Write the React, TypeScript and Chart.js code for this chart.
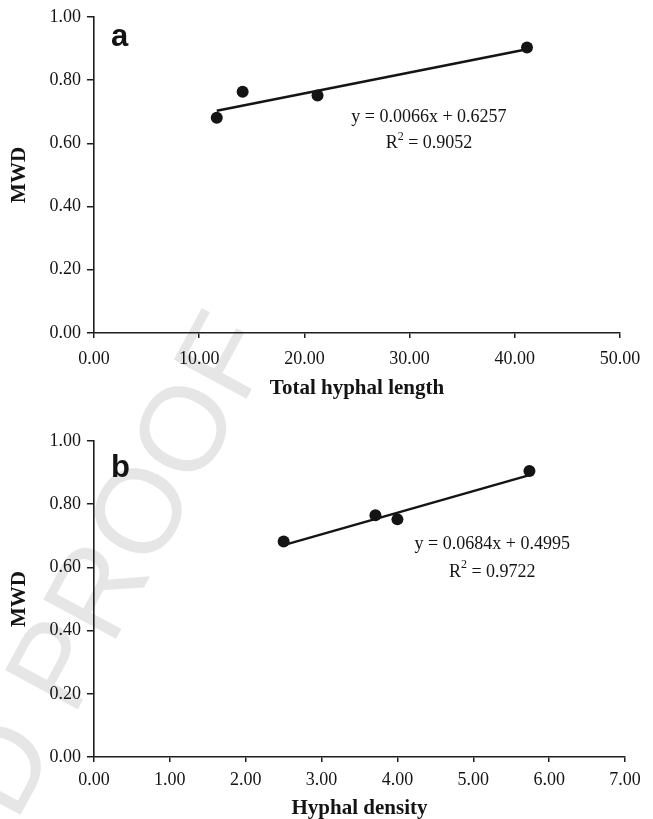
import React, { useEffect, useRef } from "react";
import { Chart, registerables } from "chart.js";

Chart.register(...registerables);

// ---------------- data ----------------
const totalHyphalLength = [11.67, 14.13, 21.25, 41.16];
const mwdA = [0.681, 0.763, 0.751, 0.903];
const fitA = [0.0066, 0.6257];
const eqTextA = "y = 0.0066x + 0.6257";
const r2TextA = "0.9052";
const xTicksA = [0, 10, 20, 30, 40, 50];

const hyphalDensity = [2.5, 3.71, 4.0, 5.74];
const mwdB = [0.682, 0.765, 0.752, 0.905];
const fitB = [0.0684, 0.4995];
const eqTextB = "y = 0.0684x + 0.4995";
const r2TextB = "0.9722";
const xTicksB = [0, 1, 2, 3, 4, 5, 6, 7];

const yTicks = [0, 0.2, 0.4, 0.6, 0.8, 1.0];

// ---------------- styles ----------------
const SERIF = '"Liberation Serif", "Times New Roman", Times, serif';
const SANS = '"Liberation Sans", Arial, Helvetica, sans-serif';
const AXIS = "#1e1e1e";
const INK = "#141414";

interface PanelSpec {
  top: number;
  height: number;
  letter: string;
  letterDx: number;
  letterDy: number;
  xs: number[];
  ys: number[];
  fit: number[];
  eq: string;
  r2: string;
  eqAt: number[];
  r2Gap: number;
  xTicks: number[];
  xTitle: string;
  padding: { top: number; right: number; left: number; bottom: number };
  xAxisHeight: number;
  xTickPad: number;
  xTitlePad: number;
}

const panels: PanelSpec[] = [
  {
    top: 0,
    height: 410,
    letter: "a",
    letterDx: 17,
    letterDy: 29,
    xs: totalHyphalLength,
    ys: mwdA,
    fit: fitA,
    eq: eqTextA,
    r2: r2TextA,
    eqAt: [31.84, 0.681],
    r2Gap: 26,
    xTicks: xTicksA,
    xTitle: "Total hyphal length",
    padding: { top: 16, right: 33, left: 0, bottom: 0 },
    xAxisHeight: 77,
    xTickPad: 10,
    xTitlePad: 11,
  },
  {
    top: 410,
    height: 409,
    letter: "b",
    letterDx: 17,
    letterDy: 36,
    xs: hyphalDensity,
    ys: mwdB,
    fit: fitB,
    eq: eqTextB,
    r2: r2TextB,
    eqAt: [5.25, 0.674],
    r2Gap: 28,
    xTicks: xTicksB,
    xTitle: "Hyphal density",
    padding: { top: 31, right: 28, left: 0, bottom: 0 },
    xAxisHeight: 62,
    xTickPad: 7,
    xTitlePad: 0,
  },
];

function makeConfig(s: PanelSpec): any {
  const lo = Math.min(...s.xs);
  const hi = Math.max(...s.xs);
  const [m, b] = s.fit;

  const annot = {
    id: "annot",
    afterDraw(chart: any) {
      const { ctx, chartArea, scales } = chart;
      ctx.save();
      ctx.fillStyle = INK;
      // panel letter
      ctx.font = `bold 31px ${SANS}`;
      ctx.textAlign = "left";
      ctx.textBaseline = "alphabetic";
      ctx.fillText(s.letter, chartArea.left + s.letterDx, chartArea.top + s.letterDy);
      // equation
      const cx = scales.x.getPixelForValue(s.eqAt[0]);
      const cy = scales.y.getPixelForValue(s.eqAt[1]);
      ctx.font = `18px ${SERIF}`;
      ctx.textAlign = "center";
      ctx.textBaseline = "middle";
      ctx.fillText(s.eq, cx, cy);
      // R^2 line
      const rest = " = " + s.r2;
      const wR = ctx.measureText("R").width;
      const wRest = ctx.measureText(rest).width;
      ctx.font = `12px ${SERIF}`;
      const w2 = ctx.measureText("2").width;
      const total = wR + w2 + wRest;
      const y2 = cy + s.r2Gap;
      let sx = cx - total / 2;
      ctx.textAlign = "left";
      ctx.font = `18px ${SERIF}`;
      ctx.fillText("R", sx, y2);
      ctx.font = `12px ${SERIF}`;
      ctx.fillText("2", sx + wR, y2 - 7);
      ctx.font = `18px ${SERIF}`;
      ctx.fillText(rest, sx + wR + w2, y2);
      ctx.restore();
    },
  };

  const tickFont = { family: SERIF, size: 18 };
  const titleFont = { family: SERIF, size: 21, weight: "bold" as const, lineHeight: 1 };

  return {
    type: "scatter",
    data: {
      datasets: [
        {
          label: "observed",
          data: s.xs.map((x, i) => ({ x, y: s.ys[i] })),
          backgroundColor: INK,
          borderColor: INK,
          borderWidth: 0,
          pointRadius: 6,
          pointHoverRadius: 6,
        },
        {
          label: "fit",
          data: [
            { x: lo, y: m * lo + b },
            { x: hi, y: m * hi + b },
          ],
          showLine: true,
          borderColor: INK,
          borderWidth: 2.5,
          pointRadius: 0,
          fill: false,
        },
      ],
    },
    options: {
      animation: false,
      responsive: false,
      events: [],
      layout: { padding: s.padding },
      plugins: {
        legend: { display: false },
        tooltip: { enabled: false },
      },
      scales: {
        x: {
          type: "linear",
          min: s.xTicks[0],
          max: s.xTicks[s.xTicks.length - 1],
          afterBuildTicks: (sc: any) => {
            sc.ticks = s.xTicks.map((v) => ({ value: v }));
          },
          afterFit: (sc: any) => {
            sc.height = s.xAxisHeight;
          },
          ticks: {
            callback: (v: any) => Number(v).toFixed(2),
            font: tickFont,
            color: INK,
            padding: s.xTickPad,
            maxRotation: 0,
            autoSkip: false,
          },
          grid: {
            display: true,
            drawOnChartArea: false,
            drawTicks: true,
            tickLength: 5,
            color: AXIS,
            lineWidth: 1.5,
          },
          border: { display: true, color: AXIS, width: 1.6 },
          title: {
            display: true,
            text: s.xTitle,
            font: titleFont,
            color: INK,
            padding: { top: 0, bottom: s.xTitlePad },
          },
        },
        y: {
          type: "linear",
          min: yTicks[0],
          max: yTicks[yTicks.length - 1],
          afterBuildTicks: (sc: any) => {
            sc.ticks = yTicks.map((v) => ({ value: v }));
          },
          afterFit: (sc: any) => {
            sc.width = 94;
          },
          ticks: {
            callback: (v: any) => Number(v).toFixed(2),
            font: tickFont,
            color: INK,
            padding: 6,
            autoSkip: false,
          },
          grid: {
            display: true,
            drawOnChartArea: false,
            drawTicks: true,
            tickLength: 7,
            color: AXIS,
            lineWidth: 1.5,
          },
          border: { display: true, color: AXIS, width: 1.6 },
          title: {
            display: true,
            text: "MWD",
            font: titleFont,
            color: INK,
            padding: { top: 9.5, bottom: 0 },
          },
        },
      },
    },
    plugins: [annot],
  };
}

function Panel({ spec }: { spec: PanelSpec }) {
  const ref = useRef<HTMLCanvasElement>(null);
  useEffect(() => {
    if (!ref.current) return;
    const chart = new Chart(ref.current, makeConfig(spec));
    return () => chart.destroy();
  }, [spec]);
  return (
    <canvas
      ref={ref}
      width={653}
      height={spec.height}
      style={{ position: "absolute", left: 0, top: spec.top, width: 653, height: spec.height }}
    />
  );
}

export default function App() {
  return (
    <div
      style={{
        position: "absolute",
        left: 0,
        top: 0,
        width: 653,
        height: 819,
        overflow: "hidden",
        background: "#ffffff",
      }}
    >
      <div
        style={{
          position: "absolute",
          left: 137,
          top: 510,
          width: 0,
          height: 0,
          transform: "rotate(-61.5deg)",
          transformOrigin: "0 0",
        }}
      >
        <span
          style={{
            position: "absolute",
            left: "-9.833em",
            top: "-0.49em",
            fontFamily: SANS,
            fontSize: 120,
            lineHeight: 1,
            whiteSpace: "nowrap",
            color: "#e6e6e6",
          }}
        >
          UNCORRECTED PROOF
        </span>
      </div>
      {panels.map((p) => (
        <Panel key={p.letter} spec={p} />
      ))}
    </div>
  );
}
